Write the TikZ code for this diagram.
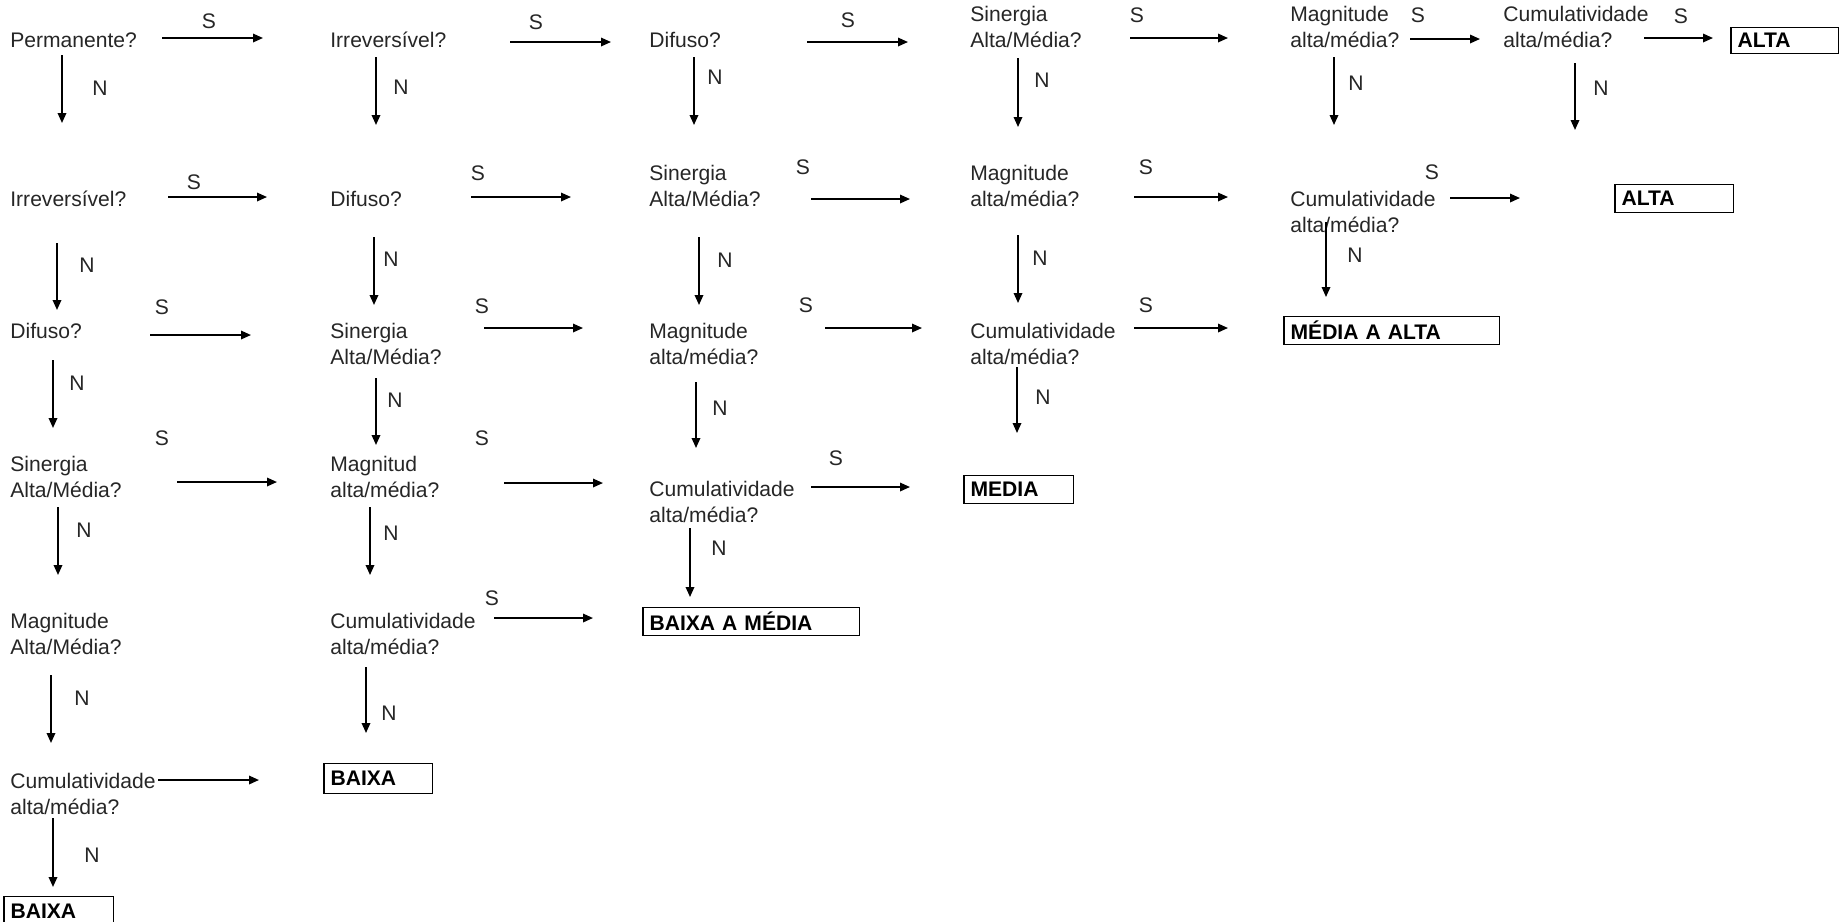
\documentclass[tikz,border=0pt]{standalone}
\usepackage{fontspec}
\setmainfont{Liberation Sans}
\usetikzlibrary{arrows.meta}

\begin{document}
\begin{tikzpicture}[x=0.02cm, y=-0.02cm,
  q/.style={anchor=north west, inner sep=0pt, align=left, text=black!85, font=\fontsize{12}{14.8}\selectfont},
  lbl/.style={inner sep=0pt, text=black!85, font=\fontsize{12}{14.8}\selectfont},
  arr/.style={-{Triangle[length=0.2cm, width=0.17cm]}, line width=1pt},
  res/.style={draw, line width=0.7pt, anchor=north west, inner xsep=0.12cm, inner ysep=0pt, minimum height=0.56cm, align=left, font=\fontsize{12}{14.8}\selectfont\bfseries}]
\useasboundingbox (0,0) rectangle (1843,921);

% questions
\node[q] (p1) at (10,32) {Permanente?};
\node[q] (i1) at (330,32) {Irreversível?};
\node[q] (d1) at (649,32) {Difuso?};
\node[q] (s1) at (970,6) {Sinergia\\Alta/Média?};
\node[q] (m1) at (1290,6) {Magnitude\\alta/média?};
\node[q] (c1) at (1503,6) {Cumulatividade\\alta/média?};

\node[q] (i2) at (10,191) {Irreversível?};
\node[q] (d2) at (330,191) {Difuso?};
\node[q] (s2) at (649,165) {Sinergia\\Alta/Média?};
\node[q] (m2) at (970,165) {Magnitude\\alta/média?};
\node[q] (c2) at (1290,191) {Cumulatividade\\alta/média?};

\node[q] (d3) at (10,323) {Difuso?};
\node[q] (s3) at (330,323) {Sinergia\\Alta/Média?};
\node[q] (m3) at (649,323) {Magnitude\\alta/média?};
\node[q] (c3) at (970,323) {Cumulatividade\\alta/média?};

\node[q] (s4) at (10,456) {Sinergia\\Alta/Média?};
\node[q] (m4) at (330,456) {Magnitud\\alta/média?};
\node[q] (c4) at (649,481) {Cumulatividade\\alta/média?};

\node[q] (m5) at (10,613) {Magnitude\\Alta/Média?};
\node[q] (c5) at (330,613) {Cumulatividade\\alta/média?};

\node[q] (c6) at (10,773) {Cumulatividade\\alta/média?};

% results
\node[res, text width=1.90cm, minimum height=0.52cm] (b1) at (1731,27) {ALTA};
\node[res, text width=2.12cm] (b2) at (1615,184) {ALTA};
\node[res, text width=4.06cm] (b3) at (1284,316) {MÉDIA A ALTA};
\node[res, text width=1.94cm] (b4) at (964,475) {MEDIA};
\node[res, text width=4.08cm] (b5) at (643,607) {BAIXA A MÉDIA};
\node[res, text width=1.92cm, minimum height=0.6cm] (b6) at (324,763) {BAIXA};
\node[res, text width=1.94cm, minimum height=0.6cm] (b7) at (4,896) {BAIXA};
\draw[line width=1.6pt] (b1.north west) -- (b1.south west);
\draw[line width=1.6pt] (b2.north west) -- (b2.south west);
\draw[line width=1.6pt] (b3.north west) -- (b3.south west);
\draw[line width=1.6pt] (b4.north west) -- (b4.south west);
\draw[line width=1.6pt] (b5.north west) -- (b5.south west);
\draw[line width=1.6pt] (b6.north west) -- (b6.south west);
\draw[line width=1.6pt] (b7.north west) -- (b7.south west);

% arrow ends, S
\coordinate (h11) at (162,38);  \coordinate (h11e) at (263,38);
\coordinate (h12) at (510,42);  \coordinate (h12e) at (611,42);
\coordinate (h13) at (807,42);  \coordinate (h13e) at (908,42);
\coordinate (h14) at (1130,38); \coordinate (h14e) at (1228,38);
\coordinate (h15) at (1410,39); \coordinate (h15e) at (1480,39);
\coordinate (h16) at (1644,38); \coordinate (h16e) at (1713,38);
\coordinate (h21) at (168,197); \coordinate (h21e) at (267,197);
\coordinate (h22) at (471,197); \coordinate (h22e) at (571,197);
\coordinate (h23) at (811,199); \coordinate (h23e) at (910,199);
\coordinate (h24) at (1134,197); \coordinate (h24e) at (1228,197);
\coordinate (h25) at (1450,198); \coordinate (h25e) at (1520,198);
\coordinate (h31) at (150,335); \coordinate (h31e) at (251,335);
\coordinate (h32) at (484,328); \coordinate (h32e) at (583,328);
\coordinate (h33) at (825,328); \coordinate (h33e) at (922,328);
\coordinate (h34) at (1134,328); \coordinate (h34e) at (1228,328);
\coordinate (h41) at (177,482); \coordinate (h41e) at (277,482);
\coordinate (h42) at (504,483); \coordinate (h42e) at (603,483);
\coordinate (h43) at (811,487); \coordinate (h43e) at (910,487);
\coordinate (h52) at (494,618); \coordinate (h52e) at (593,618);
\coordinate (h61) at (158,780); \coordinate (h61e) at (259,780);

% arrow ends, N
\coordinate (v11) at (62,55);   \coordinate (v11e) at (62,123);
\coordinate (v21) at (57,243);  \coordinate (v21e) at (57,310);
\coordinate (v31) at (53,360);  \coordinate (v31e) at (53,428);
\coordinate (v41) at (58,507);  \coordinate (v41e) at (58,575);
\coordinate (v51) at (51,675);  \coordinate (v51e) at (51,743);
\coordinate (v61) at (53,818);  \coordinate (v61e) at (53,887);
\coordinate (v12) at (376,57);  \coordinate (v12e) at (376,125);
\coordinate (v22) at (374,237); \coordinate (v22e) at (374,305);
\coordinate (v32) at (376,378); \coordinate (v32e) at (376,445);
\coordinate (v42) at (370,507); \coordinate (v42e) at (370,575);
\coordinate (v52) at (366,667); \coordinate (v52e) at (366,733);
\coordinate (v13) at (694,57);  \coordinate (v13e) at (694,125);
\coordinate (v23) at (699,237); \coordinate (v23e) at (699,305);
\coordinate (v33) at (696,382); \coordinate (v33e) at (696,448);
\coordinate (v43) at (690,528); \coordinate (v43e) at (690,597);
\coordinate (v14) at (1018,58); \coordinate (v14e) at (1018,127);
\coordinate (v24) at (1018,235); \coordinate (v24e) at (1018,303);
\coordinate (v34) at (1017,367); \coordinate (v34e) at (1017,433);
\coordinate (v15) at (1334,57); \coordinate (v15e) at (1334,125);
\coordinate (v25) at (1326,222); \coordinate (v25e) at (1326,297);
\coordinate (v16) at (1575,63); \coordinate (v16e) at (1575,130);

\draw[arr] (h11) -- (h11e);
\draw[arr] (h12) -- (h12e);
\draw[arr] (h13) -- (h13e);
\draw[arr] (h14) -- (h14e);
\draw[arr] (h15) -- (h15e);
\draw[arr] (h16) -- (h16e);
\draw[arr] (h21) -- (h21e);
\draw[arr] (h22) -- (h22e);
\draw[arr] (h23) -- (h23e);
\draw[arr] (h24) -- (h24e);
\draw[arr] (h25) -- (h25e);
\draw[arr] (h31) -- (h31e);
\draw[arr] (h32) -- (h32e);
\draw[arr] (h33) -- (h33e);
\draw[arr] (h34) -- (h34e);
\draw[arr] (h41) -- (h41e);
\draw[arr] (h42) -- (h42e);
\draw[arr] (h43) -- (h43e);
\draw[arr] (h52) -- (h52e);
\draw[arr] (h61) -- (h61e);

\draw[arr] (v11) -- (v11e);
\draw[arr] (v21) -- (v21e);
\draw[arr] (v31) -- (v31e);
\draw[arr] (v41) -- (v41e);
\draw[arr] (v51) -- (v51e);
\draw[arr] (v61) -- (v61e);
\draw[arr] (v12) -- (v12e);
\draw[arr] (v22) -- (v22e);
\draw[arr] (v32) -- (v32e);
\draw[arr] (v42) -- (v42e);
\draw[arr] (v52) -- (v52e);
\draw[arr] (v13) -- (v13e);
\draw[arr] (v23) -- (v23e);
\draw[arr] (v33) -- (v33e);
\draw[arr] (v43) -- (v43e);
\draw[arr] (v14) -- (v14e);
\draw[arr] (v24) -- (v24e);
\draw[arr] (v34) -- (v34e);
\draw[arr] (v15) -- (v15e);
\draw[arr] (v25) -- (v25e);
\draw[arr] (v16) -- (v16e);

% S labels
\node[lbl] (ls11) at (209,21) {S};
\node[lbl] (ls12) at (536,22) {S};
\node[lbl] (ls13) at (848,20) {S};
\node[lbl] (ls14) at (1137,15) {S};
\node[lbl] (ls15) at (1418,15) {S};
\node[lbl] (ls16) at (1681,16) {S};
\node[lbl] (ls21) at (194,182) {S};
\node[lbl] (ls22) at (478,173) {S};
\node[lbl] (ls23) at (803,167) {S};
\node[lbl] (ls24) at (1146,167) {S};
\node[lbl] (ls25) at (1432,172) {S};
\node[lbl] (ls31) at (162,307) {S};
\node[lbl] (ls32) at (482,306) {S};
\node[lbl] (ls33) at (806,305) {S};
\node[lbl] (ls34) at (1146,305) {S};
\node[lbl] (ls41) at (162,438) {S};
\node[lbl] (ls42) at (482,438) {S};
\node[lbl] (ls43) at (836,458) {S};
\node[lbl] (ls52) at (492,598) {S};

% N labels
\node[lbl] (ln11) at (100,88) {N};
\node[lbl] (ln21) at (87,265) {N};
\node[lbl] (ln31) at (77,383) {N};
\node[lbl] (ln41) at (84,530) {N};
\node[lbl] (ln51) at (82,698) {N};
\node[lbl] (ln61) at (92,855) {N};
\node[lbl] (ln12) at (401,87) {N};
\node[lbl] (ln22) at (391,259) {N};
\node[lbl] (ln32) at (395,400) {N};
\node[lbl] (ln42) at (391,533) {N};
\node[lbl] (ln52) at (389,713) {N};
\node[lbl] (ln13) at (715,77) {N};
\node[lbl] (ln23) at (725,260) {N};
\node[lbl] (ln33) at (720,408) {N};
\node[lbl] (ln43) at (719,548) {N};
\node[lbl] (ln14) at (1042,80) {N};
\node[lbl] (ln24) at (1040,258) {N};
\node[lbl] (ln34) at (1043,397) {N};
\node[lbl] (ln15) at (1356,83) {N};
\node[lbl] (ln25) at (1355,255) {N};
\node[lbl] (ln16) at (1601,88) {N};
\end{tikzpicture}
\end{document}
